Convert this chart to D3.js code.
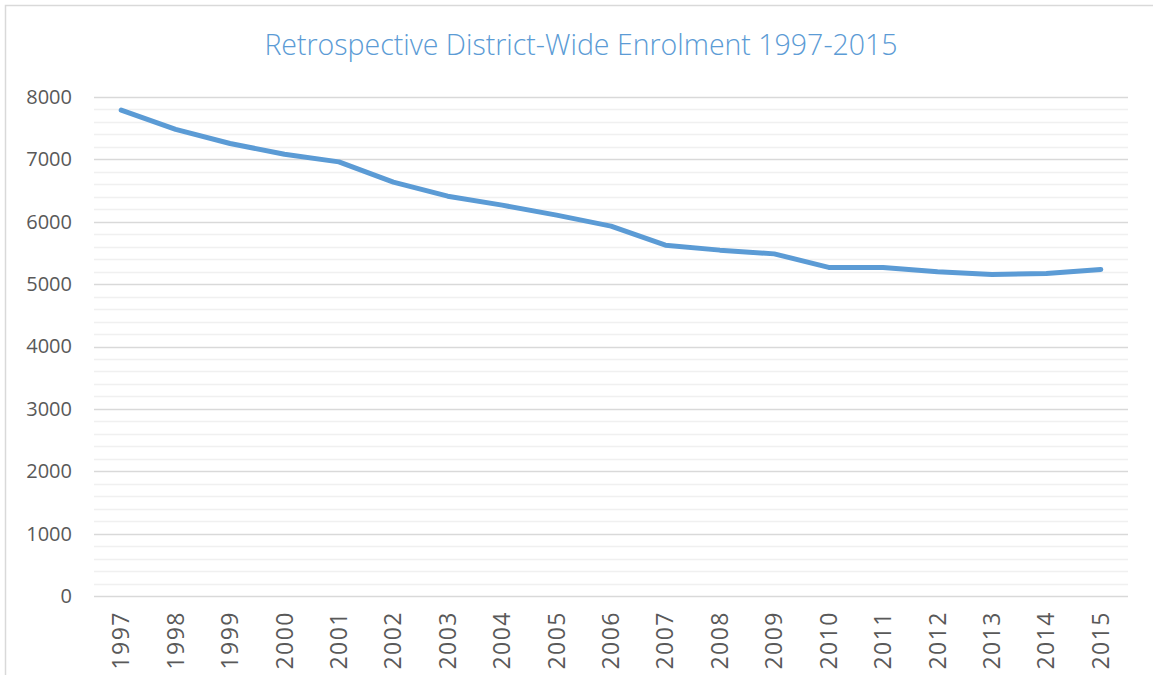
<!DOCTYPE html>
<meta charset="utf-8">
<style>
body { margin: 0; background: #fff; }
svg text { font-family: "Open Sans", "Liberation Sans", sans-serif; }
</style>
<svg width="1153" height="675"></svg>
<script src="https://cdnjs.cloudflare.com/ajax/libs/d3/7.8.5/d3.min.js"></script>
<script>
// data
var years = ["1997", "1998", "1999", "2000", "2001", "2002", "2003", "2004", "2005", "2006",
             "2007", "2008", "2009", "2010", "2011", "2012", "2013", "2014", "2015"]
var enrolment = [7790, 7480, 7254, 7083, 6960, 6635, 6410, 6266, 6106, 5930,
                 5625, 5545, 5485, 5268, 5268, 5197, 5155, 5171, 5235]
var yTicks = [0, 1000, 2000, 3000, 4000, 5000, 6000, 7000, 8000]
var title = "Retrospective District-Wide Enrolment 1997-2015"

var svg = d3.select('svg')
var plotLeft = 94, plotRight = 1128, plotTop = 97, plotBottom = 596

// chart border (only the top and left edges are in frame)
svg.append("rect")
    .attr("x", 5.5).attr("y", 5.5)
    .attr("width", 1200).attr("height", 700)
    .attr("fill", "none")
    .attr("stroke", "#d9d9d9")
    .attr("stroke-width", 1.5)

var x = d3.scaleBand().domain(years).range([plotLeft, plotRight])
var y = d3.scaleLinear().domain([0, 8000]).range([plotBottom, plotTop])

// minor gridlines every 200
var minor = d3.range(200, 8000, 200).filter(function (v) { return v % 1000 !== 0 })
svg.append("g")
  .selectAll("line")
  .data(minor)
  .enter().append("line")
    .attr("x1", plotLeft).attr("x2", plotRight)
    .attr("y1", function (d) { return Math.round(y(d)) + 0.5 })
    .attr("y2", function (d) { return Math.round(y(d)) + 0.5 })
    .attr("stroke", "#f0f0f0")
    .attr("stroke-width", 1.5)

// major gridlines
svg.append("g")
  .selectAll("line")
  .data(yTicks)
  .enter().append("line")
    .attr("x1", plotLeft).attr("x2", plotRight)
    .attr("y1", function (d) { return Math.round(y(d)) + 0.5 })
    .attr("y2", function (d) { return Math.round(y(d)) + 0.5 })
    .attr("stroke", "#d9d9d9")
    .attr("stroke-width", 1.5)

// y axis labels
var yAxis = d3.axisLeft(y).tickValues(yTicks).tickFormat(d3.format("d")).tickSize(0).tickPadding(22)
var gy = svg.append("g").attr("transform", "translate(" + plotLeft + ",0)").call(yAxis)
gy.select(".domain").remove()
gy.selectAll("text")
    .attr("font-size", 20)
    .attr("fill", "#595959")
    .attr("font-family", "Open Sans")

// x axis labels, rotated
var xAxis = d3.axisBottom(x).tickSize(0)
var gx = svg.append("g").attr("transform", "translate(0," + plotBottom + ")").call(xAxis)
gx.select(".domain").remove()
gx.selectAll("text")
    .attr("font-size", 23)
    .attr("fill", "#595959")
    .attr("font-family", "Open Sans")
    .attr("text-anchor", "end")
    .attr("transform", "rotate(-90)")
    .attr("x", -15)
    .attr("y", 0)
    .attr("dy", "0.35em")
    .style("letter-spacing", "1.5px")

// the line
var line = d3.line()
    .x(function (d, i) { return x(years[i]) + x.bandwidth() / 2 })
    .y(function (d) { return y(d) })

svg.append("path")
    .datum(enrolment)
    .attr("d", line)
    .attr("fill", "none")
    .attr("stroke", "#5b9bd5")
    .attr("stroke-width", 5)
    .attr("stroke-linecap", "round")
    .attr("stroke-linejoin", "round")

// title
svg.append("text")
    .attr("x", 581)
    .attr("y", 55)
    .attr("text-anchor", "middle")
    .attr("font-size", 28.5)
    .attr("font-weight", 300)
    .attr("fill", "#5b9bd5")
    .text(title)
</script>
